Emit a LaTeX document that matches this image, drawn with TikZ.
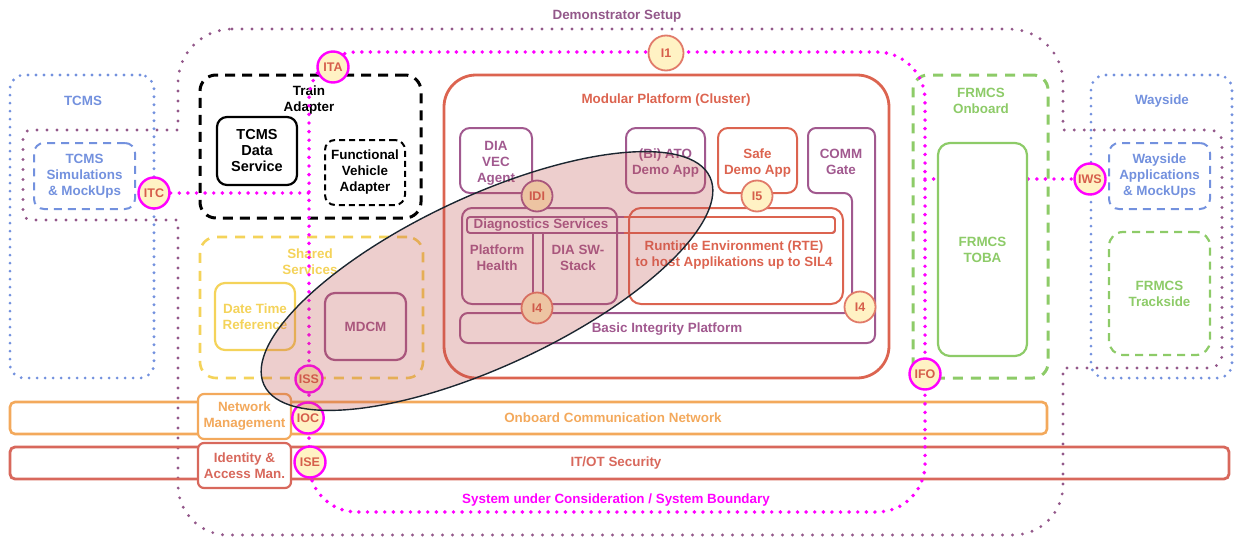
\documentclass[tikz,border=0pt]{standalone}
\usepackage{fontspec}
\setmainfont{Liberation Sans}
\usetikzlibrary{shapes.geometric}

\definecolor{demoC}{HTML}{93588A}
\definecolor{sysC}{HTML}{FF00FF}
\definecolor{blueC}{HTML}{7391DE}
\definecolor{redC}{HTML}{DC6450}
\definecolor{secC}{HTML}{D8685C}
\definecolor{orangeC}{HTML}{F3A95C}
\definecolor{yellowC}{HTML}{F4D35A}
\definecolor{greenC}{HTML}{8DCB68}
\definecolor{mauveC}{HTML}{A1598F}
\definecolor{circF}{HTML}{FFF2C4}
\definecolor{circT}{HTML}{D65E4B}
\definecolor{focusC}{HTML}{C0504D}
\definecolor{edgeC}{HTML}{1B2630}

\begin{document}
\begin{tikzpicture}[x=1pt, y=-1pt,
  txt/.style={font=\bfseries\fontsize{13.4}{16}\selectfont, align=center, inner sep=0pt},
  dims/.style 2 args={minimum width=#1pt, minimum height=#2pt},
  frame/.style={rectangle, inner sep=0pt, outer sep=0pt},
  dotsDemo/.style={draw=demoC, line width=3.2pt, line cap=round, dash pattern=on 0pt off 10pt},
  dotsBlue/.style={draw=blueC, line width=3.1pt, line cap=round, dash pattern=on 0pt off 8pt},
  dotsSys/.style={draw=sysC, line width=3.9pt, line cap=round, dash pattern=on 0pt off 8.6pt},
  dashBlack/.style={draw=black, line width=3pt, dash pattern=on 10pt off 7pt},
  dashThin/.style={draw=black, line width=2pt, dash pattern=on 6pt off 4pt},
  dashYellow/.style={draw=yellowC, line width=2.6pt, dash pattern=on 10pt off 8pt},
  dashGreen/.style={draw=greenC, line width=3pt, dash pattern=on 10pt off 8pt},
  dashGreenThin/.style={draw=greenC, line width=2.2pt, dash pattern=on 8pt off 6pt},
  dashBlue/.style={draw=blueC, line width=2pt, dash pattern=on 8pt off 6pt},
  ifc/.style={circle, inner sep=0pt, fill=circF, text=circT, font=\bfseries\fontsize{12.5}{12.5}\selectfont},
  ifcSys/.style={ifc, draw=sysC, line width=2.4pt, minimum size=31pt},
  ifcRed/.style={ifc, draw=redC!85, line width=1.8pt, minimum size=33pt},
  ifcMauve/.style={ifc, draw=mauveC, line width=1.8pt, minimum size=31pt},
]
\useasboundingbox (0,0) rectangle (1234,538);

% ---------- Demonstrator setup outline ----------
\node[txt, text=demoC] (demoLbl) at (617,16) {Demonstrator Setup};
\draw[dotsDemo]
 (232,29) -- (1009,29)
 .. controls (1038.8,29) and (1063,53.2) .. (1063,83)
 -- (1063,130) -- (1210,130)
 .. controls (1216.6,130) and (1222,135.4) .. (1222,142)
 -- (1222,356)
 .. controls (1222,361.4) and (1216.6,368) .. (1210,368)
 -- (1063,368) -- (1063,485)
 .. controls (1063,512.6) and (1040.6,535) .. (1013,535)
 -- (228,535)
 .. controls (200.4,535) and (178,512.6) .. (178,485)
 -- (178,220) -- (31,220)
 .. controls (26.6,220) and (23,216.4) .. (23,212)
 -- (23,138)
 .. controls (23,133.6) and (26.6,130) .. (31,130)
 -- (178,130) -- (178,83)
 .. controls (178,53.2) and (202.2,29) .. (232,29) -- cycle;

% ---------- TCMS (left) ----------
\node[frame, dotsBlue, rounded corners=14pt, dims={144}{303}] (tcms) at (82,226.5) {};
\node[txt, text=blueC] (tcmsLbl) at (83,101) {TCMS};
\node[frame, dashBlue, rounded corners=10pt, dims={101}{66}, txt, text=blueC] (tcmsSim) at (84.5,176) {TCMS\\Simulations\\\& MockUps};

% ---------- Wayside (right) ----------
\node[frame, dotsBlue, rounded corners=14pt, dims={141}{303}] (wayside) at (1161.5,226.5) {};
\node[txt, text=blueC] (waysideLbl) at (1162,101) {Wayside};
\node[frame, dashBlue, rounded corners=10pt, dims={101}{66}, txt, text=blueC] (wayApps) at (1159.5,176) {Wayside\\Applications\\\& MockUps};
\node[frame, dashGreenThin, rounded corners=14pt, dims={101}{123}, txt, text=greenC] (trackside) at (1159.5,293.5) {FRMCS\\Trackside};

% ---------- Onboard bars ----------
\node[frame, draw=orangeC, line width=2.6pt, rounded corners=5pt, dims={1037}{32}] (ocn) at (528.5,418) {};
\node[txt, text=orangeC] (ocnLbl) at (613,418) {Onboard Communication Network};
\node[frame, draw=secC, line width=2.8pt, rounded corners=5pt, dims={1219}{32}] (itot) at (619.5,463) {};
\node[txt, text=secC] (itotLbl) at (616,463) {IT/OT Security};
\node[frame, draw=orangeC, line width=2.2pt, fill=white, rounded corners=6pt, dims={93}{45}, txt, text=orangeC] (netMgmt) at (244.5,416.5) {Network\\Management};
\node[frame, draw=secC, line width=2.2pt, fill=white, rounded corners=6pt, dims={93}{45}, txt, text=secC] (iam) at (244.5,465.5) {Identity \&\\Access Man.};

% ---------- Train adapter ----------
\node[frame, dashBlack, rounded corners=16pt, dims={221}{143}] (trainAd) at (310.5,146.5) {};
\node[txt] (trainAdLbl) at (309,100) {Train\\Adapter};
\node[frame, draw=black, line width=2.2pt, rounded corners=10pt, dims={80}{68}, txt, font=\bfseries\fontsize{14.5}{16}\selectfont] (tcmsData) at (257,151) {TCMS\\Data\\Service};
\node[frame, dashThin, rounded corners=10pt, dims={80}{65}, txt] (fva) at (365,172.5) {Functional\\Vehicle\\Adapter};

% ---------- Shared services ----------
\node[frame, dashYellow, rounded corners=16pt, dims={223}{141}] (shared) at (311.5,307.5) {};
\node[txt, text=yellowC] (sharedLbl) at (310,261.5) {Shared\\Services};
\node[frame, draw=yellowC, line width=2.2pt, rounded corners=10pt, dims={80}{67}, txt, text=yellowC] (dtr) at (255,316.5) {Date Time\\Reference};
\node[frame, draw=mauveC, line width=2.2pt, rounded corners=10pt, dims={81}{67}, txt, text=mauveC] (mdcm) at (365.5,326.5) {MDCM};

% ---------- Modular platform ----------
\node[frame, draw=redC, line width=2.8pt, rounded corners=32pt, dims={445}{303}] (modular) at (666.5,226.5) {};
\node[txt, text=redC] (modularLbl) at (666,100) {Modular Platform (Cluster)};
\node[frame, draw=mauveC, line width=2pt, rounded corners=10pt, dims={72}{65}] (diaVec) at (496,160.5) {};
\node[txt, text=mauveC] (diaVecLbl) at (496,163) {DIA\\VEC\\Agent};
\node[frame, draw=mauveC, line width=2pt, rounded corners=10pt, dims={79}{65}] (ato) at (665.5,160.5) {};
\node[txt, text=mauveC] (atoLbl) at (665.5,163.5) {(Bi) ATO\\Demo App};
\node[frame, draw=redC, line width=2pt, rounded corners=10pt, dims={79}{65}] (safe) at (757.5,160.5) {};
\node[txt, text=redC] (safeLbl) at (757.5,163.5) {Safe\\Demo App};

% COMM gate joined with the basic integrity platform
\draw[draw=mauveC, line width=2pt, rounded corners=8pt]
 (852,313) -- (852,193) -- (808,193) -- (808,128) -- (875,128) -- (875,343) -- (460,343) -- (460,313) -- cycle;
\node[txt, text=mauveC] (commLbl) at (841,161.5) {COMM\\Gate};
\node[txt, text=mauveC] (bipLbl) at (667,329) {Basic Integrity Platform};

% diagnostics group
\node[frame, draw=mauveC, line width=2pt, rounded corners=10pt, dims={155}{96}] (diag) at (539.5,256) {};
\draw[draw=mauveC, line width=1.8pt] (533,233) -- (533,304);
\draw[draw=mauveC, line width=1.8pt] (543,233) -- (543,304);
\node[txt, text=mauveC] (healthLbl) at (497,257.5) {Platform\\Health};
\node[txt, text=mauveC] (swLbl) at (578,257.5) {DIA SW-\\Stack};

% runtime environment
\node[frame, draw=redC, line width=2pt, rounded corners=12pt, dims={214}{96}] (rte) at (736,256) {};
\node[txt, text=redC] (rteLbl) at (734,255.5) {Runtime Environment (RTE)\\to host Applikations up to SIL4};

% diagnostics services bar
\node[frame, draw=mauveC, line width=1.9pt, rounded corners=3pt, dims={368}{16}] (diagBar) at (651,225) {};
\begin{scope}
  \clip (624,200) rectangle (850,250);
  \draw[draw=redC, line width=1.9pt, rounded corners=3pt] (467,217) rectangle (835,233);
\end{scope}
\node[txt, text=mauveC] (diagBarLbl) at (541,225.5) {Diagnostics Services};

% ---------- FRMCS onboard ----------
\node[frame, dashGreen, rounded corners=15pt, dims={135}{303}] (frmcsOb) at (980.5,226.5) {};
\node[txt, text=greenC] (frmcsObLbl) at (981,101) {FRMCS\\Onboard};

% ---------- System boundary ----------
\draw[dotsSys, rounded corners=48pt] (309,300) -- (309,52) -- (925,52) -- (925,512) -- (309,512) -- cycle;
\node[txt, text=sysC] (sysLbl) at (616,500) {System under Consideration / System Boundary};

\coordinate (itcJoin) at (309,193);
\coordinate (iwsJoin) at (925,179);

% interface points
\node[ifcSys] (itc) at (154,193) {ITC};
\node[ifcSys] (iws) at (1090,179) {IWS};
\draw[dotsSys] (itc) -- (itcJoin);
\draw[dotsSys] (iwsJoin) -- (iws);

\node[frame, draw=greenC, line width=2.2pt, fill=white, rounded corners=12pt, dims={89}{213}, txt, text=greenC] (toba) at (982.5,249.5) {FRMCS\\TOBA};

\node[ifcSys] (ita) at (333,67) {ITA};
\node[ifcSys, minimum size=27pt] (iss) at (309,379) {ISS};
\node[ifc, ellipse, draw=sysC, line width=2.4pt, minimum width=23pt, minimum height=31pt] (ioc) at (308,418) {IOC};
\node[ifcSys] (ise) at (310,462) {ISE};
\node[ifcSys] (ifo) at (925,374) {IFO};
\node[ifcRed, minimum size=35pt] (i1) at (666,53) {I1};
\node[ifcMauve] (idi) at (537,196) {IDI};
\node[ifcRed, minimum size=31pt] (i5) at (757,196) {I5};
\node[ifcRed, minimum size=31pt] (i4a) at (537,308) {I4};
\node[ifcRed, minimum size=31pt] (i4b) at (860,307) {I4};

% ---------- highlighted scope ----------
\node[ellipse, draw=edgeC, line width=1.4pt, fill=focusC, fill opacity=0.28, draw opacity=1,
      minimum width=492pt, minimum height=170pt, inner sep=0pt, rotate=25] (focus) at (487,281) {};
\end{tikzpicture}
\end{document}
